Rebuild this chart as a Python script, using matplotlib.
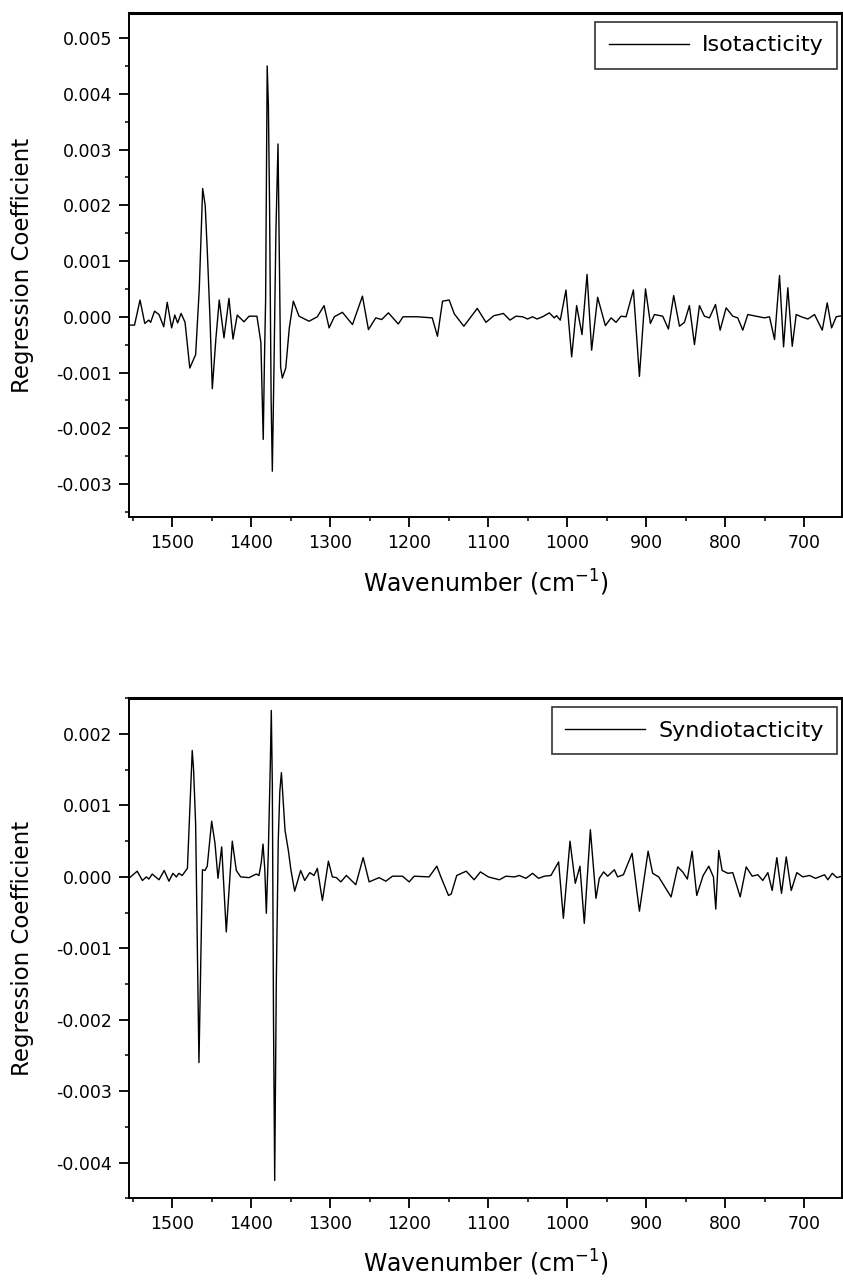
import matplotlib
matplotlib.use("Agg")
import matplotlib.pyplot as plt
from matplotlib.ticker import MultipleLocator, FormatStrFormatter

# Isotacticity regression coefficients
wn_iso = [1555, 1548, 1541, 1535, 1530, 1527.6, 1522.6, 1517, 1511, 1506.6, 1501,
          1497, 1493.4, 1489, 1484, 1478, 1470.6, 1466, 1461.7, 1458.5, 1455.9, 1452.5,
          1449.5, 1445, 1440.7, 1434.7, 1428.4, 1423.3, 1417.9, 1409.4, 1403, 1393,
          1388, 1385, 1383.5, 1382, 1380, 1378.5, 1377, 1375, 1373.5, 1371.5, 1369,
          1366.3, 1363, 1360.8, 1356.5, 1352, 1346.9, 1339.7, 1327, 1316.5, 1308,
          1301.6, 1295, 1284.8, 1272, 1259.4, 1251.8, 1242.5, 1235, 1226.5, 1214,
          1208, 1190, 1171, 1164.4, 1158, 1149.6, 1143, 1131, 1114, 1103, 1093,
          1086.2, 1081, 1072.6, 1065, 1056.7, 1050.3, 1044, 1038.4, 1031.3, 1022.8,
          1016.5, 1013.6, 1008.9, 1001.7, 994.5, 988.2, 981.4, 975, 969.2, 961.6,
          951.8, 944.6, 938.3, 932, 925.6, 916.3, 908.7, 901, 894.8, 889.7, 879.2,
          872, 865.3, 858, 851.7, 845.4, 839, 832.7, 826.4, 820, 812.4, 806.5,
          798.9, 790.5, 784.2, 777.8, 771.5, 760.8, 750.3, 744, 737.6, 731.3,
          726.2, 720.8, 715.2, 710.2, 703.8, 695.4, 687, 677.2, 670.9, 665.4,
          659.5, 652]
coef_iso = [-0.00015, -0.00015, 0.0003, -0.00012, -0.00006, -0.0001, 0.0001, 0.00004,
            -0.00018, 0.00026, -0.0002, 0.00003, -0.00011, 0.00006, -0.0001, -0.00092,
            -0.00068, 0.0005, 0.0023, 0.0020, 0.0012, 0.0, -0.00129, -0.0004, 0.0003,
            -0.00038, 0.00033, -0.0004, 0.00003, -0.00009, 0.00001, 0.00001, -0.00046,
            -0.0022, -0.0008, 0.0003, 0.0045, 0.0038, 0.002, -0.0015, -0.00277, -0.001,
            0.0015, 0.0031, -0.0009, -0.0011, -0.00092, -0.0002, 0.00028, 0.00001,
            -0.00008, 0.0, 0.0002, -0.0002, 0.0, 0.00008, -0.00014, 0.00037, -0.00023,
            -0.00002, -0.00005, 0.00007, -0.00013, 0.0, 0.0, -0.00002, -0.00035,
            0.00028, 0.0003, 0.00005, -0.00017, 0.00015, -0.0001, 0.00002, 0.00004,
            0.00006, -0.00006, 0.00001, 0.0, -0.00004, 0.0, -0.00004, 0.0, 0.00007,
            -0.00002, 0.00002, -0.00006, 0.00048, -0.00072, 0.0002, -0.00032, 0.00076,
            -0.0006, 0.00035, -0.00016, -0.00002, -0.0001, 0.00001, 0.0, 0.00048,
            -0.00107, 0.0005, -0.00012, 0.00004, 0.00001, -0.00022, 0.00038, -0.00017,
            -0.0001, 0.0002, -0.0005, 0.0002, 0.00001, -0.00002, 0.00022, -0.00024,
            0.00016, 0.00001, -0.00002, -0.00024, 0.00004, 0.00001, -0.00002, 0.0,
            -0.00041, 0.00074, -0.00054, 0.00052, -0.00053, 0.00004, 0.0, -0.00004,
            0.00004, -0.00024, 0.00025, -0.0002, 0.0, 0.00002]

# Syndiotacticity regression coefficients
wn_syn = [1554, 1544.6, 1538, 1533, 1529.8, 1525.6, 1517, 1510.4, 1504.4, 1499.4,
          1495, 1491.8, 1487.6, 1481, 1474.9, 1473.2, 1470.6, 1466.4, 1462, 1458.8,
          1455.9, 1450.3, 1446.1, 1442.3, 1437.6, 1431.8, 1424.2, 1419.1, 1413.6,
          1403, 1393.8, 1390.4, 1387.5, 1385.3, 1383, 1381.1, 1378.6, 1376,
          1374.8, 1373.5, 1372, 1370.5, 1368.5, 1366, 1364, 1362, 1360, 1357.4,
          1353.2, 1350, 1345.2, 1337.6, 1332.5, 1326.1, 1320.7, 1316.5, 1310.1,
          1302.5, 1297.5, 1292.4, 1286.8, 1279.7, 1267.8, 1258.5, 1250.9, 1238.3,
          1229.8, 1221.4, 1208.7, 1200.2, 1193.9, 1175, 1165.2, 1160.1, 1150.4,
          1147, 1140, 1128, 1118, 1110, 1100, 1086, 1077.7, 1067, 1060.8, 1052.4,
          1044, 1036.4, 1029.1, 1020.7, 1011, 1005, 996.6, 989.9, 984, 978.5, 970.8,
          963.7, 959.5, 954, 948.9, 940.4, 936.3, 929, 918, 908.7, 897.7, 891.9,
          884.3, 868.6, 860.2, 853.9, 848, 842, 836.1, 828, 820.9, 815, 812, 808.3,
          804, 796.8, 790.5, 781.1, 773.5, 765.9, 758.8, 752.5, 746.1, 740.6,
          734.7, 728.8, 722.8, 716.5, 709.4, 701.8, 693.3, 685.7, 674.3, 670.1,
          664.5, 658.7, 652]
coef_syn = [-0.00001, 0.00008, -0.00005, 0.0, -0.00003, 0.00004, -0.00004, 0.00009,
            -0.00006, 0.00005, 0.0, 0.00005, 0.00002, 0.00012, 0.00177, 0.0015, 0.00074,
            -0.0026, 0.0001, 0.00009, 0.00015, 0.00078, 0.00047, -0.00002, 0.00042,
            -0.00077, 0.0005, 0.00009, 0.0, -0.00001, 0.00004, 0.00002, 0.0002,
            0.00046, 0.0001, -0.00051, 0.00033, 0.0016, 0.00233, 0.0013, -0.002,
            -0.00425, -0.0015, 0.0005, 0.0012, 0.00146, 0.0011, 0.00065, 0.00037,
            0.0001, -0.0002, 0.00009, -0.00005, 0.00006, 0.00002, 0.00012, -0.00033,
            0.00022, 0.0, -0.00001, -0.00007, 0.00002, -0.00011, 0.00027, -0.00007,
            -0.00001, -0.00006, 0.00001, 0.00001, -0.00007, 0.00001, 0.0, 0.00015,
            0.0, -0.00026, -0.00024, 0.00002, 0.00008, -0.00004, 0.00007, 0.0,
            -0.00004, 0.00001, 0.0, 0.00002, -0.00002, 0.00005, -0.00002, 0.00001,
            0.00002, 0.00021, -0.00058, 0.0005, -0.00009, 0.00015, -0.00065, 0.00066,
            -0.0003, -0.00002, 0.00007, 0.00001, 0.0001, 0.0, 0.00003, 0.00033,
            -0.00048, 0.00036, 0.00005, 0.0, -0.00028, 0.00014, 0.00007, -0.00003,
            0.00036, -0.00026, 0.00002, 0.00015, 0.0, -0.00045, 0.00037, 0.00009,
            0.00005, 0.00006, -0.00028, 0.00014, 0.00001, 0.00003, -0.00005, 0.00006,
            -0.00019, 0.00027, -0.00023, 0.00028, -0.00019, 0.00006, 0.0, 0.00002,
            -0.00002, 0.00003, -0.00004, 0.00005, -0.00001, 0.00001]

panels = [
    (wn_iso, coef_iso, "Isotacticity", (-0.0036, 0.00545), [0.153, 0.5967, 0.846, 0.3932]),
    (wn_syn, coef_syn, "Syndiotacticity", (-0.0045, 0.0025), [0.153, 0.066, 0.846, 0.3897]),
]

fig = plt.figure(figsize=(8.43, 12.83), dpi=100)

for wn, coef, name, ylim, rect in panels:
    ax = fig.add_axes(rect)
    ax.plot(wn, coef, color="black", linewidth=1.0, label=name)
    ax.set_xlim(1555, 652)
    ax.set_ylim(*ylim)

    ax.xaxis.set_major_locator(MultipleLocator(100))
    ax.xaxis.set_minor_locator(MultipleLocator(50))
    ax.yaxis.set_major_locator(MultipleLocator(0.001))
    ax.yaxis.set_minor_locator(MultipleLocator(0.0005))
    ax.yaxis.set_major_formatter(FormatStrFormatter("%.3f"))
    ax.tick_params(which="major", direction="out", length=7, width=1.3,
                   labelsize=12.5, pad=5, top=False, right=False)
    ax.tick_params(which="minor", direction="out", length=3, width=1.1,
                   top=False, right=False)
    for side in ["left", "bottom", "right"]:
        ax.spines[side].set_linewidth(1.4)
    ax.spines["top"].set_linewidth(2.2)

    ax.set_xlabel("Wavenumber (cm$^{-1}$)", fontsize=17, labelpad=11)
    ax.set_ylabel("Regression Coefficient", fontsize=16.5)
    ax.yaxis.set_label_coords(-0.133, 0.5)

    leg = ax.legend(loc="upper right", bbox_to_anchor=(0.993, 0.982), fontsize=16,
                    frameon=True, fancybox=False, handlelength=3.6, handletextpad=0.6,
                    borderpad=0.6, borderaxespad=0)
    leg.get_frame().set_edgecolor("black")
    leg.get_frame().set_linewidth(1.2)

fig.savefig("out.png", dpi=100)
